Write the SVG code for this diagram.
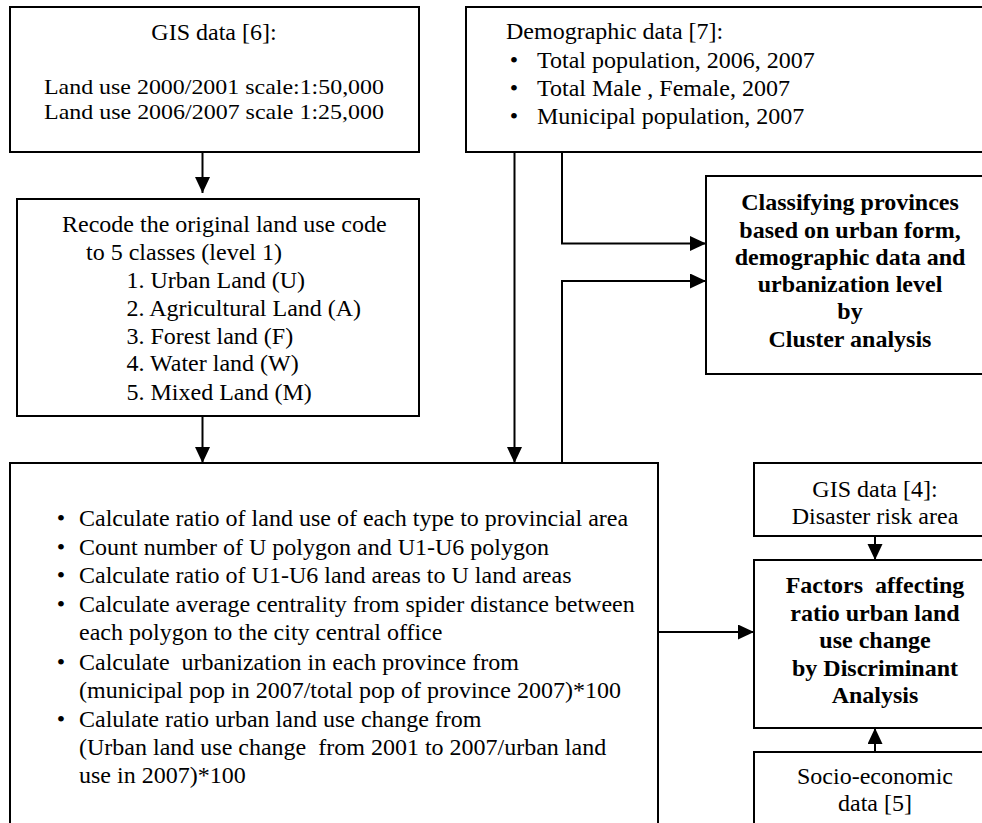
<svg xmlns="http://www.w3.org/2000/svg" width="982" height="823" viewBox="0 0 982 823">
<style>
  .box { fill: #ffffff; stroke: #000000; stroke-width: 2; }
  .t { font-family: "Liberation Serif", "Times New Roman", serif; font-size: 24px; fill: #000000; }
  .s { font-size: 22px; }
  .b { font-weight: bold; }
  .c { text-anchor: middle; }
  .conn { fill: none; stroke: #000000; stroke-width: 2; }
</style>
<defs>
  <marker id="arr" markerUnits="userSpaceOnUse" markerWidth="16" markerHeight="16" refX="16" refY="7.5" orient="auto">
    <path d="M0,0 L16,7.5 L0,15 z" fill="#000000"/>
  </marker>
</defs>
<rect x="0" y="0" width="982" height="823" fill="#ffffff"/>

<g id="gis6">
  <rect class="box" x="10" y="7" width="409" height="145"/>
  <text class="t c" x="214" y="40">GIS data [6]:</text>
  <text class="t s c" x="214" y="94" textLength="340" lengthAdjust="spacingAndGlyphs">Land use 2000/2001 scale:1:50,000</text>
  <text class="t s c" x="214" y="118.5" textLength="340" lengthAdjust="spacingAndGlyphs">Land use 2006/2007 scale 1:25,000</text>
</g>

<g id="demographic">
  <rect class="box" x="466" y="7" width="530" height="145"/>
  <text class="t" x="506" y="39">Demographic data [7]:</text>
  <text class="t c" x="514" y="67.5">•</text>
  <text class="t" x="537" y="67.5">Total population, 2006, 2007</text>
  <text class="t c" x="514" y="95.5">•</text>
  <text class="t" x="537" y="95.5">Total Male , Female, 2007</text>
  <text class="t c" x="514" y="123.5">•</text>
  <text class="t" x="537" y="123.5">Municipal population, 2007</text>
</g>

<g id="recode">
  <rect class="box" x="17" y="199" width="402" height="217"/>
  <text class="t" x="62" y="231.5">Recode the original land use code</text>
  <text class="t" x="86" y="260">to 5 classes (level 1)</text>
  <text class="t" x="126.5" y="288">1. Urban Land (U)</text>
  <text class="t" x="126.5" y="316">2. Agricultural Land (A)</text>
  <text class="t" x="126.5" y="343.5">3. Forest land (F)</text>
  <text class="t" x="126.5" y="370.5">4. Water land (W)</text>
  <text class="t" x="126.5" y="400">5. Mixed Land (M)</text>
</g>

<g id="classifying">
  <rect class="box" x="706" y="176" width="290" height="198"/>
  <text class="t b c" x="850" y="210">Classifying provinces</text>
  <text class="t b c" x="850" y="237.5">based on urban form,</text>
  <text class="t b c" x="850" y="264.5">demographic data and</text>
  <text class="t b c" x="850" y="292">urbanization level</text>
  <text class="t b c" x="850" y="319">by</text>
  <text class="t b c" x="850" y="346.5">Cluster analysis</text>
</g>

<g id="calculations">
  <rect class="box" x="10" y="463" width="648" height="380"/>
  <text class="t c" x="61" y="526">•</text>
  <text class="t" x="79" y="526">Calculate ratio of land use of each type to provincial area</text>
  <text class="t c" x="61" y="554.5">•</text>
  <text class="t" x="79" y="554.5">Count number of U polygon and U1-U6 polygon</text>
  <text class="t c" x="61" y="583">•</text>
  <text class="t" x="79" y="583">Calculate ratio of U1-U6 land areas to U land areas</text>
  <text class="t c" x="61" y="611.5">•</text>
  <text class="t" x="79" y="611.5">Calculate average centrality from spider distance between</text>
  <text class="t" x="79" y="640">each polygon to the city central office</text>
  <text class="t c" x="61" y="670">•</text>
  <text class="t" x="79" y="670" xml:space="preserve">Calculate  urbanization in each province from</text>
  <text class="t" x="79" y="698">(municipal pop in 2007/total pop of province 2007)*100</text>
  <text class="t c" x="61" y="727">•</text>
  <text class="t" x="79" y="727">Calulate ratio urban land use change from</text>
  <text class="t" x="79" y="755" xml:space="preserve">(Urban land use change  from 2001 to 2007/urban land</text>
  <text class="t" x="79" y="783">use in 2007)*100</text>
</g>

<g id="gis4">
  <rect class="box" x="754" y="463" width="242" height="73"/>
  <text class="t c" x="875" y="497">GIS data [4]:</text>
  <text class="t c" x="875" y="524">Disaster risk area</text>
</g>

<g id="factors">
  <rect class="box" x="754" y="560" width="242" height="168"/>
  <text class="t b c" x="875" y="593" xml:space="preserve">Factors  affecting</text>
  <text class="t b c" x="875" y="620.5">ratio urban land</text>
  <text class="t b c" x="875" y="648">use change</text>
  <text class="t b c" x="875" y="675.5">by Discriminant</text>
  <text class="t b c" x="875" y="703">Analysis</text>
</g>

<g id="socio">
  <rect class="box" x="754" y="752" width="242" height="90"/>
  <text class="t c" x="875" y="783.5">Socio-economic</text>
  <text class="t c" x="875" y="811">data [5]</text>
</g>

<g id="connectors">
  <path class="conn" d="M202.5,152 V193" marker-end="url(#arr)"/>
  <path class="conn" d="M202.5,416 V463" marker-end="url(#arr)"/>
  <path class="conn" d="M514.5,152 V463" marker-end="url(#arr)"/>
  <path class="conn" d="M562,152 V243.5 H706" marker-end="url(#arr)"/>
  <path class="conn" d="M562,463 V281 H706" marker-end="url(#arr)"/>
  <path class="conn" d="M658,632 H754" marker-end="url(#arr)"/>
  <path class="conn" d="M875,536 V560" marker-end="url(#arr)"/>
  <path class="conn" d="M875,752 V728" marker-end="url(#arr)"/>
</g>
</svg>
